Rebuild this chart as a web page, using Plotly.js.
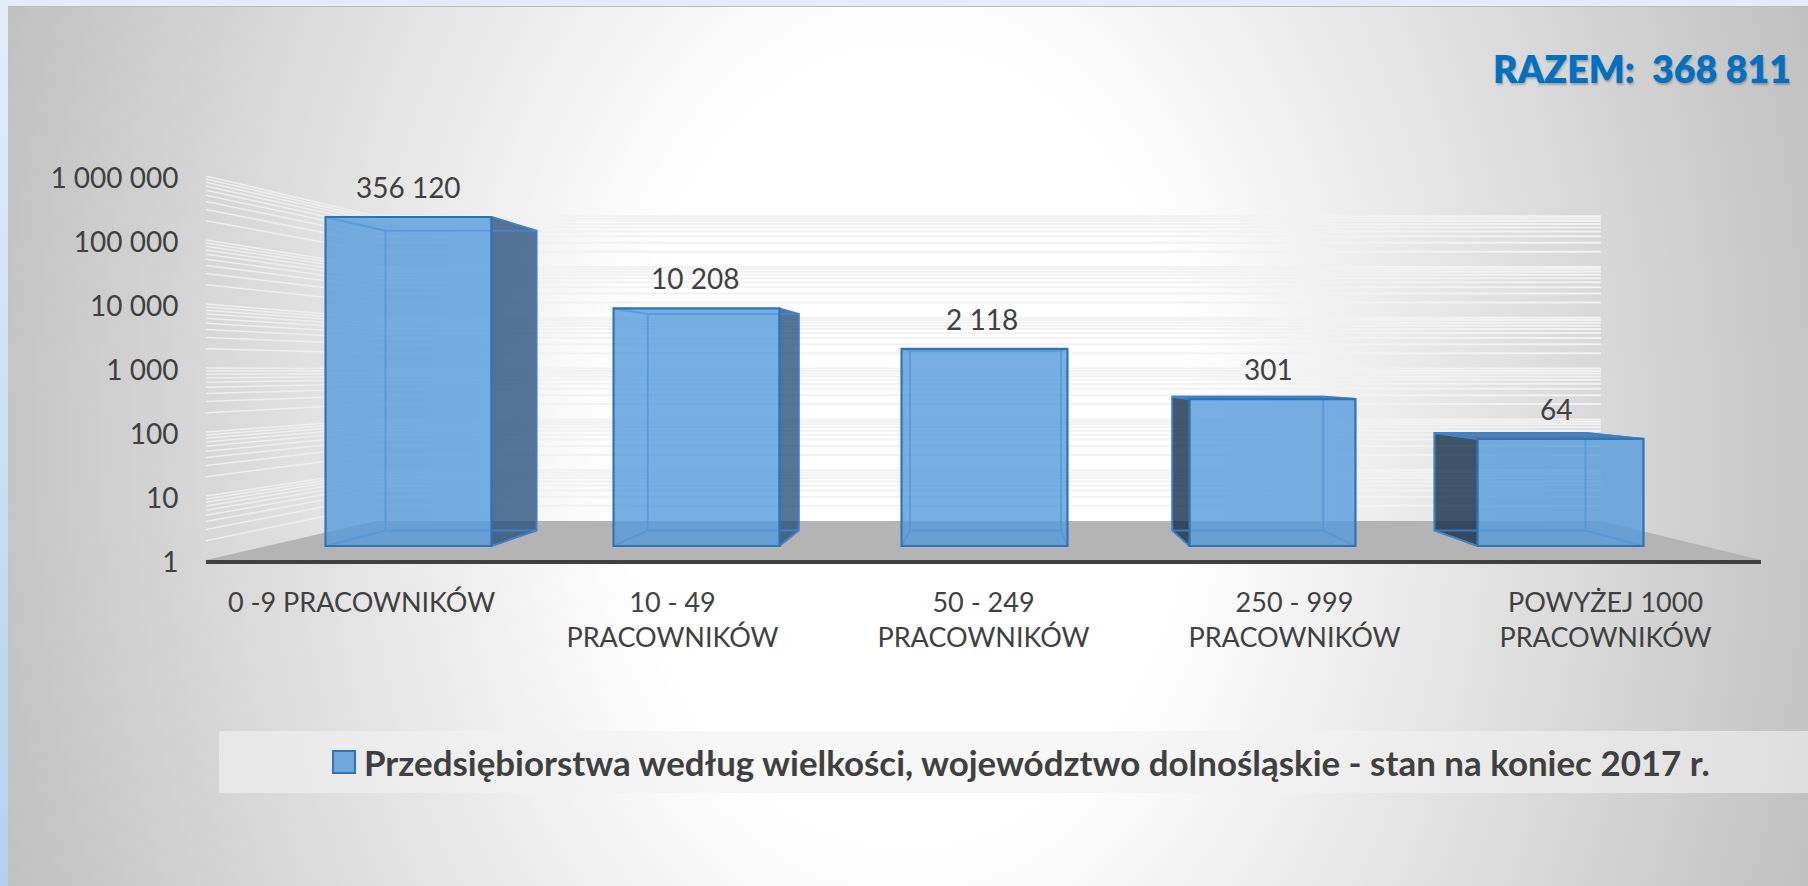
<!DOCTYPE html>
<html lang="pl">
<head>
<meta charset="utf-8">
<title>Przedsiębiorstwa według wielkości</title>
<script src="https://cdn.plot.ly/plotly-3.0.1.min.js"></script>
<style>
html,body{margin:0;padding:0;width:1808px;height:886px;overflow:hidden;background:linear-gradient(180deg,#e3edf8 0%,#b2d1ef 100%);}
#bg{position:absolute;left:8px;top:6px;width:1800px;height:880px;border-top:1px solid #bcbcbc;box-sizing:border-box;
background:radial-gradient(ellipse 1000px 1400px at 50% 50%,#ffffff 28%,#bcbcbc 100%);}
#chart{position:absolute;left:0;top:0;width:1808px;height:886px;}
</style>
</head>
<body>
<div id="bg"></div>
<div id="chart"></div>
<script>
const categories = ["0 -9 PRACOWNIKÓW","10 - 49<br>PRACOWNIKÓW","50 - 249<br>PRACOWNIKÓW","250 - 999<br>PRACOWNIKÓW","POWYŻEJ 1000<br>PRACOWNIKÓW"];
const values = [356120, 10208, 2118, 301, 64];
const valueLabels = ["356 120","10 208","2 118","301","64"];
const yTickVals = [1,10,100,1000,10000,100000,1000000];
const yTickText = ["1","10","100","1 000","10 000","100 000","1 000 000"];
const seriesName = "Przedsiębiorstwa według wielkości, województwo dolnośląskie - stan na koniec 2017 r.";
const totalLabel = "RAZEM:\u00a0\u00a0368 811";

// Perspective planes expressed in the visible axes' units: x = x0 + xs*category, log10(y) = l0 + ls*log10(value)
const front = {x0:.151, xs:.926, l0:.219, ls:.926};
const back  = {x0:.320, xs:.8432, l0:.461, ls:.8437};
const wall  = {l0:.609, ls:.794, xl:.045, xr:3.985};
const halfWidth = .288;          // half bar width, in category units
const gridDecades = [1,10,100,1000,10000,100000];
const gridSteps = [1,2,3,4,5,6,7,8,9];

const px = (p,i)=>p.x0+p.xs*i;
const py = (p,v)=>Math.pow(10,p.l0+p.ls*Math.log10(v));
const wy = v=>Math.pow(10,wall.l0+wall.ls*Math.log10(v));
const base = {hoverinfo:"skip",showlegend:false,xaxis:"x",yaxis:"y"};
const traces = [];

// Floor
traces.push({...base,type:"scatter",mode:"none",fill:"toself",fillcolor:"#b4b4b4",
  x:[-.5,4.5,wall.xr,wall.xl,-.5],y:[1,1,wy(1),wy(1),1]});

// Wall gridlines, log minor steps
const lx=[],ly=[],bx=[],by=[];
const gridVals=[];
gridDecades.forEach(d=>gridSteps.forEach(s=>gridVals.push(d*s)));
gridVals.slice(1).concat([1000000]).forEach(v=>{
  lx.push(-.5,wall.xl,null); ly.push(v,wy(v),null);
  bx.push(wall.xl,wall.xr,null); by.push(wy(v),wy(v),null);
});
traces.push({...base,type:"scatter",mode:"lines",x:lx,y:ly,line:{color:"#eeeeee",width:1.5}});
traces.push({...base,type:"scatter",mode:"lines",x:bx,y:by,line:{color:"#f2f2f2",width:2}});

// Inner faces and edges of each bar
const edge="#2E75B6", inner="rgba(70,135,205,.75)";
values.forEach((v,i)=>{
  const fl=px(front,i)-halfWidth*front.xs, fr=px(front,i)+halfWidth*front.xs;
  const bl=px(back,i)-halfWidth*back.xs,   br=px(back,i)+halfWidth*back.xs;
  const ft=py(front,v), fb=py(front,1), bt=py(back,v), bb=py(back,1);
  // outer side face
  if(br>fr) traces.push({...base,type:"scatter",mode:"lines",fill:"toself",fillcolor:"rgba(38,78,122,.78)",
    x:[fr,br,br,fr,fr],y:[ft,bt,bb,fb,ft],line:{color:edge,width:1.5}});
  if(bl<fl) traces.push({...base,type:"scatter",mode:"lines",fill:"toself",fillcolor:"rgba(20,45,72,.8)",
    x:[fl,bl,bl,fl,fl],y:[ft,bt,bb,fb,ft],line:{color:edge,width:1.5}});
  // top face, visible from outside only when it rises above the front edge
  if(bt>ft) traces.push({...base,type:"scatter",mode:"lines",fill:"toself",fillcolor:"rgba(40,90,150,.75)",
    x:[fl,bl,br,fr,fl],y:[ft,bt,bt,ft,ft],line:{color:edge,width:2}});
  // back rectangle and receding edges
  traces.push({...base,type:"scatter",mode:"lines",
    x:[bl,bl,br,br,bl,null,fl,bl,null,fr,br,null,fl,bl,null,fr,br],
    y:[bb,bt,bt,bb,bb,null,ft,bt,null,ft,bt,null,fb,bb,null,fb,bb],
    line:{color:inner,width:2}});
});

// Front faces: the real bars on their own overlay axes
traces.push({type:"bar",x:categories,y:values.map(v=>v-1),base:1,xaxis:"x2",yaxis:"y2",name:seriesName,
  marker:{color:"rgba(85,155,220,.8)",line:{color:edge,width:2.2}},width:halfWidth*2,
  customdata:values,hovertemplate:"%{customdata}<extra></extra>",showlegend:false});

const fontFamily="Lato, Carlito, sans-serif";
const tickFont={family:fontFamily,size:28,color:"#404040"};
const annotations = values.map((v,i)=>({xref:"x2",yref:"y2",x:i,y:Math.log10(v),yanchor:"middle",xanchor:"center",
  yshift:30,xshift:-1.2*i,showarrow:false,text:valueLabels[i],font:tickFont}));
annotations.push({xref:"paper",yref:"paper",x:(1793-206)/1555,y:(560-68)/384,xanchor:"right",yanchor:"middle",showarrow:false,
  text:totalLabel,font:{family:fontFamily,size:37.5,weight:800,color:"#0070C0",shadow:"1px 2px 2px rgba(0,0,0,.25)"}});
annotations.push({xref:"paper",yref:"paper",x:(362-206)/1555,y:(560-762)/384,xanchor:"left",yanchor:"middle",showarrow:false,
  text:seriesName,font:{family:fontFamily,size:34.9,weight:700,color:"#404040"}});

const layout = {
  width:1808,height:886,autosize:false,
  margin:{l:206,r:47,t:176,b:326,pad:0},
  paper_bgcolor:"rgba(0,0,0,0)",plot_bgcolor:"rgba(0,0,0,0)",
  showlegend:false,bargap:.424,
  xaxis:{type:"linear",range:[-.5,4.5],tickmode:"array",tickvals:[0,1,2,3,4],ticktext:categories,
    showgrid:false,zeroline:false,showline:true,linecolor:"#404040",linewidth:3.5,
    ticks:"outside",ticklen:16,tickcolor:"rgba(0,0,0,0)",tickfont:{family:fontFamily,size:27,color:"#404040"}},
  yaxis:{type:"log",range:[0,6],tickmode:"array",tickvals:yTickVals,ticktext:yTickText,
    showgrid:false,zeroline:false,showline:false,ticks:"outside",ticklen:21,ticklabelshift:2,tickcolor:"rgba(0,0,0,0)",tickfont:tickFont},
  xaxis2:{type:"category",overlaying:"x",range:[-.703,4.696],visible:false,categoryorder:"array",categoryarray:categories},
  yaxis2:{type:"log",overlaying:"y",range:[-.2365,6.243],visible:false},
  annotations,
  shapes:[
    {type:"rect",xref:"paper",yref:"paper",x0:(219-206)/1555,x1:(1808-206)/1555,y0:(560-793)/384,y1:(560-731)/384,
      fillcolor:"rgba(242,242,242,.6)",line:{width:0},layer:"below"},
    {type:"rect",xref:"paper",yref:"paper",x0:(333-206)/1555,x1:(355-206)/1555,y0:(560-773)/384,y1:(560-751)/384,
      fillcolor:"#6FA6DC",line:{color:edge,width:2},layer:"above"}
  ]
};
Plotly.newPlot("chart",traces,layout,{displayModeBar:false,responsive:false});
</script>
</body>
</html>
